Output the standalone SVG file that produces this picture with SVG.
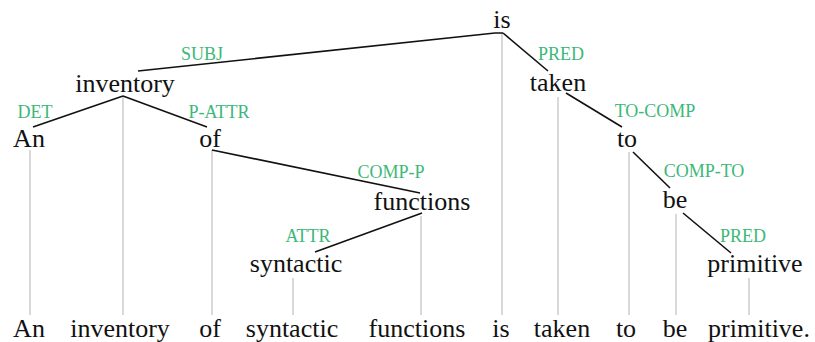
<svg xmlns="http://www.w3.org/2000/svg" width="815" height="342" viewBox="0 0 815 342">
<style>
.w{font-size:26px;fill:#111;text-anchor:middle}
.l{font-size:18px;fill:#3cb878;text-anchor:middle}
.g{stroke:#c4c4c4;stroke-width:1.3;fill:none}
.e{stroke:#111;stroke-width:1.6;fill:none}
</style>
<rect width="815" height="342" fill="#fff"/>
<g id="projections">
<line class="g" x1="30" y1="150" x2="30" y2="315"/>
<line class="g" x1="123" y1="96" x2="123" y2="315"/>
<line class="g" x1="212" y1="150" x2="212" y2="315"/>
<line class="g" x1="293" y1="278" x2="293" y2="315"/>
<line class="g" x1="421" y1="216" x2="421" y2="315"/>
<line class="g" x1="502" y1="33" x2="502" y2="315"/>
<line class="g" x1="558" y1="97" x2="558" y2="315"/>
<line class="g" x1="629" y1="152" x2="629" y2="315"/>
<line class="g" x1="676" y1="214" x2="676" y2="315"/>
<line class="g" x1="749" y1="278" x2="749" y2="315"/>
</g>
<g id="connectors" font-family="Liberation Serif, DejaVu Serif, serif">
<polyline class="e" points="138,71 495,33 503,33"/>
<line class="e" x1="503" y1="33" x2="548" y2="71"/>
<line class="e" x1="123" y1="96" x2="33" y2="127"/>
<line class="e" x1="123" y1="96" x2="207" y2="127"/>
<line class="e" x1="212" y1="150" x2="420" y2="193"/>
<line class="e" x1="422" y1="213" x2="315" y2="252"/>
<line class="e" x1="566" y1="93" x2="622" y2="127"/>
<line class="e" x1="633" y1="152" x2="670" y2="188"/>
<line class="e" x1="683" y1="213" x2="731" y2="253"/>
<text class="l" x="202" y="60">SUBJ</text>
<text class="l" x="561" y="60">PRED</text>
<text class="l" x="35" y="118">DET</text>
<text class="l" x="219" y="118">P-ATTR</text>
<text class="l" x="655" y="117">TO-COMP</text>
<text class="l" x="391" y="178">COMP-P</text>
<text class="l" x="704" y="177">COMP-TO</text>
<text class="l" x="308" y="242">ATTR</text>
<text class="l" x="743" y="242">PRED</text>
</g>
<g font-family="Liberation Serif, DejaVu Serif, serif">
<g id="n-is"><text class="w" x="502" y="28">is</text></g>
<g id="n-inventory"><text class="w" x="125" y="92">inventory</text></g>
<g id="n-taken"><text class="w" x="558" y="91">taken</text></g>
<g id="n-An"><text class="w" x="29" y="147">An</text></g>
<g id="n-of"><text class="w" x="210" y="147">of</text></g>
<g id="n-to"><text class="w" x="627" y="147">to</text></g>
<g id="n-functions"><text class="w" x="422" y="210">functions</text></g>
<g id="n-be"><text class="w" x="675" y="208">be</text></g>
<g id="n-syntactic"><text class="w" x="296" y="272">syntactic</text></g>
<g id="n-primitive"><text class="w" x="755" y="272">primitive</text></g>
<g id="sentence">
<text class="w" x="29" y="337">An</text>
<text class="w" x="120" y="337">inventory</text>
<text class="w" x="210" y="337">of</text>
<text class="w" x="292" y="337">syntactic</text>
<text class="w" x="417" y="337">functions</text>
<text class="w" x="501" y="337">is</text>
<text class="w" x="562" y="337">taken</text>
<text class="w" x="626" y="337">to</text>
<text class="w" x="675" y="337">be</text>
<text class="w" x="759" y="337">primitive.</text>
</g>
</g>
</svg>
